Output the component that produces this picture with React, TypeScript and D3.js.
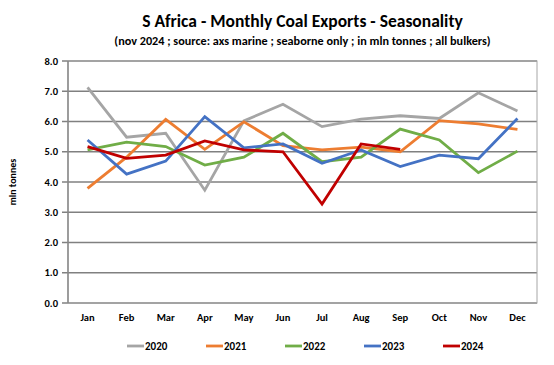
import React, { useRef, useEffect } from 'react';
import * as d3 from 'd3';

const months = ['Jan', 'Feb', 'Mar', 'Apr', 'May', 'Jun', 'Jul', 'Aug', 'Sep', 'Oct', 'Nov', 'Dec'];
const yTicks = [0, 1, 2, 3, 4, 5, 6, 7, 8];

const y2020 = [7.13, 5.48, 5.61, 3.73, 6.02, 6.57, 5.83, 6.08, 6.19, 6.1, 6.95, 6.35];
const y2021 = [3.79, 4.82, 6.07, 5.08, 5.99, 5.2, 5.06, 5.15, 5.0, 6.03, 5.92, 5.74];
const y2022 = [5.06, 5.32, 5.17, 4.56, 4.82, 5.61, 4.67, 4.82, 5.75, 5.39, 4.31, 5.02];
const y2023 = [5.39, 4.26, 4.69, 6.16, 5.13, 5.26, 4.62, 5.06, 4.51, 4.89, 4.77, 6.1];
const y2024 = [5.17, 4.78, 4.89, 5.36, 5.06, 5.0, 3.27, 5.26, 5.08];

const seriesNames = ['2020', '2021', '2022', '2023', '2024'];
const seriesColors = ['#A5A5A5', '#ED7D31', '#70AD47', '#4472C4', '#C00000'];

const FONT = 'Carlito, Calibri, Lato, sans-serif';

function Chart() {
  const ref = useRef(null);

  useEffect(() => {
    const svg = d3.select(ref.current);
    svg.selectAll('*').remove();

    const margin = { top: 61, right: 17, bottom: 62, left: 68 };
    const width = 554;
    const height = 365;

    const x = d3
      .scaleBand()
      .domain(months)
      .range([margin.left, width - margin.right]);
    const y = d3
      .scaleLinear()
      .domain([0, 8])
      .range([height - margin.bottom, margin.top]);

    // titles
    const cx = (margin.left + width - margin.right) / 2;
    svg
      .append('text')
      .attr('x', cx)
      .attr('y', 27)
      .attr('text-anchor', 'middle')
      .attr('font-family', FONT)
      .attr('font-weight', 'bold')
      .attr('font-size', 17.5)
      .text('S Africa - Monthly Coal Exports - Seasonality');
    svg
      .append('text')
      .attr('x', cx)
      .attr('y', 45)
      .attr('text-anchor', 'middle')
      .attr('font-family', FONT)
      .attr('font-weight', 'bold')
      .attr('font-size', 12.2)
      .text('(nov 2024 ; source: axs marine ; seaborne only ; in mln tonnes ; all bulkers)');

    // gridlines
    svg
      .append('g')
      .selectAll('line')
      .data(yTicks)
      .enter()
      .append('line')
      .attr('x1', margin.left - 6)
      .attr('x2', width - margin.right)
      .attr('y1', (d) => y(d))
      .attr('y2', (d) => y(d))
      .attr('stroke', '#808080')
      .attr('stroke-width', 1.3);

    // plot border
    svg
      .append('rect')
      .attr('x', margin.left)
      .attr('y', margin.top)
      .attr('width', width - margin.right - margin.left)
      .attr('height', height - margin.bottom - margin.top)
      .attr('fill', 'none')
      .attr('stroke', '#A6A6A6')
      .attr('stroke-width', 1);
    svg
      .append('line')
      .attr('x1', margin.left)
      .attr('x2', margin.left)
      .attr('y1', margin.top)
      .attr('y2', height - margin.bottom)
      .attr('stroke', '#808080')
      .attr('stroke-width', 1.3);

    // y labels
    svg
      .append('g')
      .selectAll('text')
      .data(yTicks)
      .enter()
      .append('text')
      .attr('x', margin.left - 10)
      .attr('y', (d) => y(d) + 3.5)
      .attr('text-anchor', 'end')
      .attr('font-family', FONT)
      .attr('font-weight', 'bold')
      .attr('font-size', 10.5)
      .text((d) => d3.format('.1f')(d));

    // x labels
    svg
      .append('g')
      .selectAll('text')
      .data(months)
      .enter()
      .append('text')
      .attr('x', (d) => x(d) + x.bandwidth() / 2)
      .attr('y', 321)
      .attr('text-anchor', 'middle')
      .attr('font-family', FONT)
      .attr('font-weight', 'bold')
      .attr('font-size', 10.5)
      .text((d) => d);

    svg
      .append('text')
      .attr('transform', 'translate(16,182) rotate(-90)')
      .attr('text-anchor', 'middle')
      .attr('font-family', FONT)
      .attr('font-weight', 'bold')
      .attr('font-size', 10)
      .text('mln tonnes');

    // lines
    const allSeries = [y2020, y2021, y2022, y2023, y2024];
    const line = d3
      .line()
      .x((d, i) => x(months[i]) + x.bandwidth() / 2)
      .y((d) => y(d));

    allSeries.forEach((vals, i) => {
      svg
        .append('path')
        .datum(vals)
        .attr('d', line)
        .attr('fill', 'none')
        .attr('stroke', seriesColors[i])
        .attr('stroke-width', 2.8)
        .attr('stroke-linejoin', 'miter');
    });

    // legend
    const legend = svg.append('g');
    seriesNames.forEach((name, i) => {
      const lx = 127 + i * 79;
      legend
        .append('line')
        .attr('x1', lx)
        .attr('x2', lx + 17)
        .attr('y1', 346)
        .attr('y2', 346)
        .attr('stroke', seriesColors[i])
        .attr('stroke-width', 2.8);
      legend
        .append('text')
        .attr('x', lx + 18)
        .attr('y', 350)
        .attr('font-family', FONT)
        .attr('font-weight', 'bold')
        .attr('font-size', 11)
        .text(name);
    });
  }, []);

  return <svg ref={ref} width={554} height={365} style={{ display: 'block' }}></svg>;
}

export default function App() {
  return (
    <div style={{ position: 'absolute', left: 0, top: 0 }}>
      <Chart />
    </div>
  );
}
